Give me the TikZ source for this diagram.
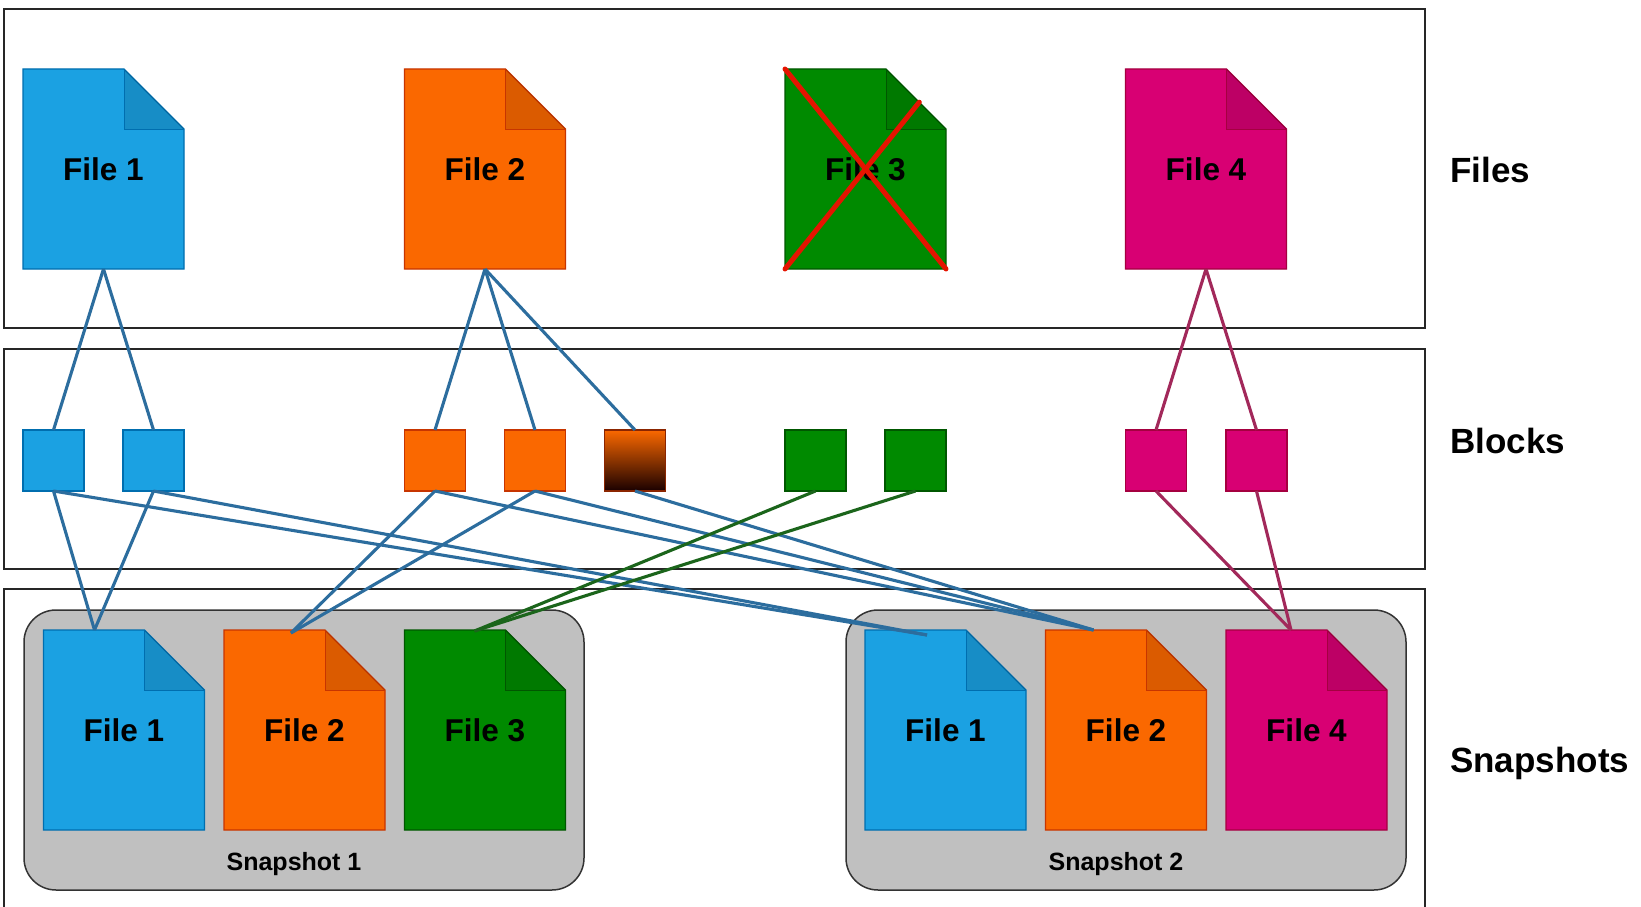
\documentclass[tikz,border=0pt]{standalone}
\usepackage{fontspec}
\setmainfont{Liberation Sans}
\usetikzlibrary{calc}
\definecolor{bluef}{HTML}{1BA1E2}
\definecolor{blues}{HTML}{006EAF}
\definecolor{orangef}{HTML}{FA6800}
\definecolor{oranges}{HTML}{C73500}
\definecolor{greenf}{HTML}{008A00}
\definecolor{greens}{HTML}{005700}
\definecolor{magf}{HTML}{D80073}
\definecolor{mags}{HTML}{A50040}
\definecolor{lineblue}{HTML}{2C6D9E}
\definecolor{linegreen}{HTML}{1B651B}
\definecolor{linemag}{HTML}{A2285A}
\definecolor{crossred}{HTML}{E51400}
\definecolor{snapgrey}{HTML}{C0C0C0}
\definecolor{gradbot}{HTML}{1A0000}
\tikzset{
  panel/.style={draw=black!85, line width=1.5pt, inner sep=0pt, outer sep=0pt, anchor=north west},
  docbox/.style={inner sep=0pt, outer sep=0pt, minimum width=161pt, minimum height=200pt, anchor=north west},
  blk/.style={inner sep=0pt, outer sep=0pt, minimum width=61pt, minimum height=61pt, anchor=north west, line width=1.2pt},
  snapbox/.style={draw=black!80, fill=snapgrey, line width=1.5pt, rounded corners=32pt, inner sep=0pt, outer sep=0pt, anchor=north west, minimum width=560pt, minimum height=280pt},
  filetext/.style={font=\bfseries\fontsize{31.5}{36}\selectfont, text=black, inner sep=0pt, anchor=base},
  sidelabel/.style={font=\bfseries\fontsize{35}{40}\selectfont, anchor=base west, inner sep=0pt},
  snaplabel/.style={font=\bfseries\fontsize{25}{30}\selectfont, inner sep=0pt, anchor=base},
  cblue/.style={draw=lineblue, line width=3.1pt},
  cgreen/.style={draw=linegreen, line width=3.1pt},
  cmag/.style={draw=linemag, line width=3.1pt},
  crossout/.style={draw=crossred, line width=5pt, line cap=round}
}
% name, x, y, fill, stroke, text
\newcommand\mydoc[6]{%
  \node[docbox] (#1) at (#2,#3) {};
  \filldraw[fill=#4, draw=#5, line width=1.2pt, line join=miter]
    (#1.north west) -- ([xshift=-60pt]#1.north east) -- ([yshift=-60pt]#1.north east)
    -- (#1.south east) -- (#1.south west) -- cycle;
  \fill[black, opacity=0.12] ([xshift=-60pt]#1.north east) -- ([xshift=-60pt,yshift=-60pt]#1.north east) -- ([yshift=-60pt]#1.north east) -- cycle;
  \draw[#5, line width=1pt] ([xshift=-60pt]#1.north east) -- ([xshift=-60pt,yshift=-60pt]#1.north east) -- ([yshift=-60pt]#1.north east);
  \node[filetext] (#1t) at ([yshift=-11.3pt]#1.center) {#6};
}
\begin{document}
\begin{tikzpicture}[x=1pt, y=-1pt]
\useasboundingbox[fill=white] (0,0) rectangle (1641,907);
% panels
\node[panel, minimum width=1421pt, minimum height=319pt] (pfiles) at (4,9) {};
\node[panel, minimum width=1421pt, minimum height=220pt] (pblocks) at (4,349) {};
\node[panel, minimum width=1421pt, minimum height=340pt] (psnaps) at (4,589) {};
% snapshot containers
\node[snapbox] (s1) at (24,610) {};
\node[snapbox] (s2) at (846,610) {};
\node[snaplabel] (s1l) at (294,870) {Snapshot 1};
\node[snaplabel] (s2l) at (1116,870) {Snapshot 2};
% top files
\mydoc{f1}{23}{69}{bluef}{blues}{File 1}
\mydoc{f2}{404.5}{69}{orangef}{oranges}{File 2}
\mydoc{f3}{785}{69}{greenf}{greens}{File 3}
\mydoc{f4}{1125.5}{69}{magf}{mags}{File 4}
% snapshot files
\mydoc{sa}{43.5}{630}{bluef}{blues}{File 1}
\mydoc{sb}{224}{630}{orangef}{oranges}{File 2}
\mydoc{sc}{404.5}{630}{greenf}{greens}{File 3}
\mydoc{sd}{865}{630}{bluef}{blues}{File 1}
\mydoc{se}{1045.5}{630}{orangef}{oranges}{File 2}
\mydoc{sf}{1226}{630}{magf}{mags}{File 4}
% blocks
\node[blk, fill=bluef, draw=blues] (b1) at (23,430) {};
\node[blk, fill=bluef, draw=blues] (b2) at (123,430) {};
\node[blk, fill=orangef, draw=oranges] (o1) at (404.5,430) {};
\node[blk, fill=orangef, draw=oranges] (o2) at (504.5,430) {};
\node[blk, top color=orangef, bottom color=gradbot, draw=oranges!70!black] (og) at (604.5,430) {};
\node[blk, fill=greenf, draw=greens] (g1) at (785,430) {};
\node[blk, fill=greenf, draw=greens] (g2) at (885,430) {};
\node[blk, fill=magf, draw=mags] (m1) at (1125.5,430) {};
\node[blk, fill=magf, draw=mags] (m2) at (1226,430) {};
% side labels
\node[sidelabel] (lfiles) at (1450,182) {Files};
\node[sidelabel] (lblocks) at (1450,453) {Blocks};
\node[sidelabel] (lsnaps) at (1450,772) {Snapshots};
% connectors: files to blocks
\draw[cblue] (f1.south) -- (b1.north);
\draw[cblue] (f1.south) -- (b2.north);
\draw[cblue] (f2.south) -- (o1.north);
\draw[cblue] (f2.south) -- (o2.north);
\draw[cblue] (f2.south) -- (og.north);
\draw[cmag] (f4.south) -- (m1.north);
\draw[cmag] (f4.south) -- (m2.north);
% connectors: blocks to snapshot files
\coordinate (pa) at ([xshift=51pt]sa.north west);
\coordinate (pb) at ([xshift=67pt,yshift=-3pt]sb.north west);
\coordinate (pc) at ([xshift=70pt,yshift=-1pt]sc.north west);
\coordinate (pd) at ([xshift=62pt,yshift=-5pt]sd.north west);
\coordinate (pe) at ([xshift=48pt]se.north west);
\coordinate (pf) at ([xshift=65pt]sf.north west);
\draw[cblue] (b1.south) -- (pa);
\draw[cblue] (b2.south) -- (pa);
\draw[cblue] (b1.south) -- (pd);
\draw[cblue] (b2.south) -- (pd);
\draw[cblue] (o1.south) -- (pb);
\draw[cblue] (o2.south) -- (pb);
\draw[cblue] (o1.south) -- (pe);
\draw[cblue] (o2.south) -- (pe);
\draw[cblue] (og.south) -- (pe);
\draw[cgreen] (g1.south) -- (pc);
\draw[cgreen] (g2.south) -- (pc);
\draw[cmag] (m1.south) -- (pf);
\draw[cmag] (m2.south) -- (pf);
% cross over File 3
\draw[crossout] (f3.north west) -- (f3.south east);
\draw[crossout] (f3.south west) -- ($(f3.south west)!0.834!(f3.north east)$);
\end{tikzpicture}
\end{document}
